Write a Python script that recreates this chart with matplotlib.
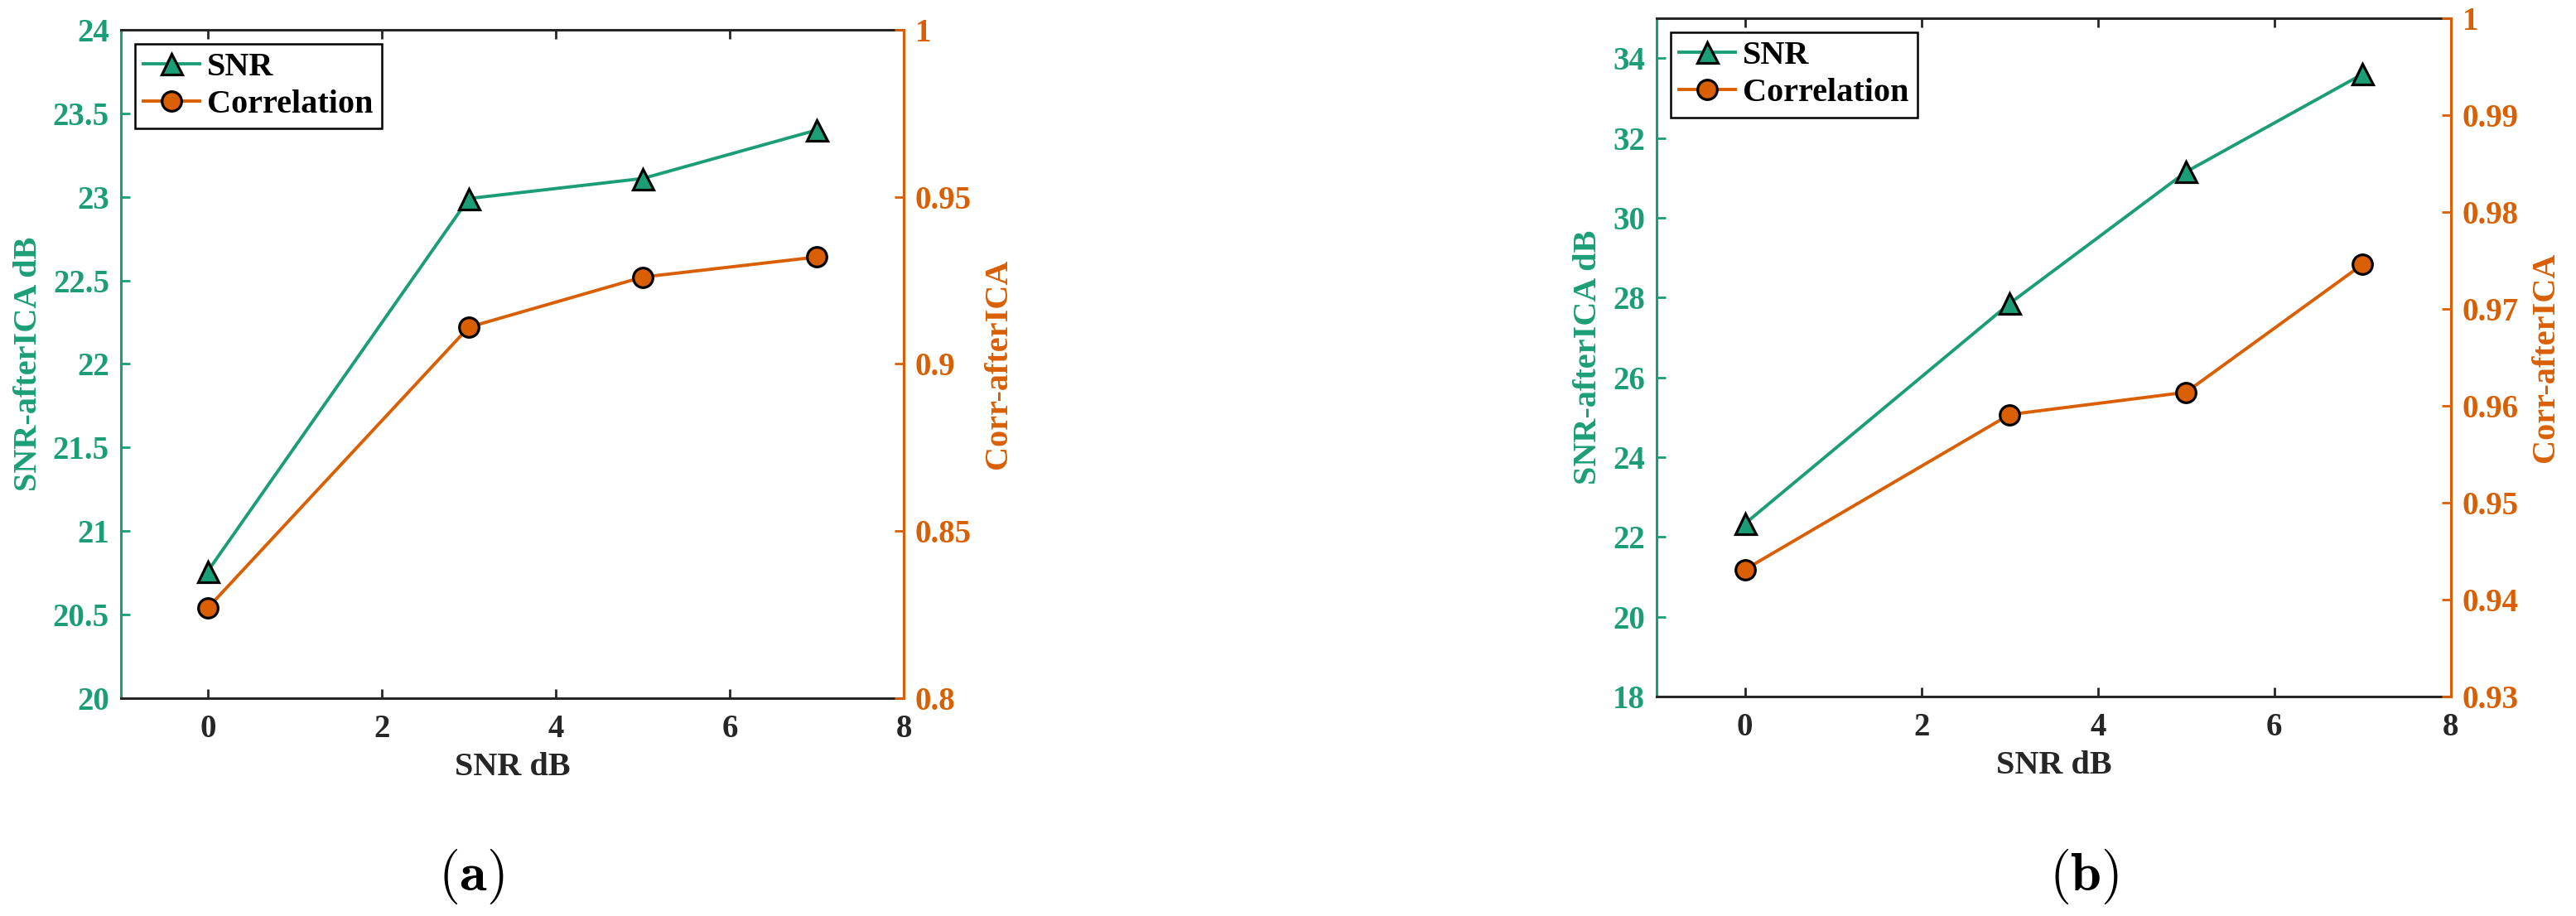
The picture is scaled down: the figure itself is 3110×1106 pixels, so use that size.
import matplotlib
matplotlib.use("Agg")
import matplotlib.pyplot as plt
from matplotlib.ticker import MultipleLocator, FuncFormatter

# 数据
snr_in = [0, 3, 5, 7]

snr_a = [20.76, 22.99, 23.11, 23.40]
corr_a = [0.827, 0.911, 0.926, 0.932]

snr_b = [22.33, 27.85, 31.15, 33.60]
corr_b = [0.9431, 0.9591, 0.9614, 0.9746]

green = '#1b9e77'
orange = '#d95f02'
dark = '#262626'

plt.rcParams['font.family'] = ['Liberation Serif', 'DejaVu Serif']
plt.rcParams['font.weight'] = 'bold'
plt.rcParams['axes.labelweight'] = 'bold'
plt.rcParams['mathtext.fontset'] = 'cm'

fig = plt.figure(figsize=(31.1, 11.06), dpi=100)

fmt = FuncFormatter(lambda v, p: f'{v:g}')


def panel(rect, snr, corr, ylim1, step1, ylim2, step2):
    ax = fig.add_axes(rect)
    ax2 = ax.twinx()

    l1, = ax.plot(snr_in, snr, '-^', color=green, lw=2.8, ms=18,
                  mfc=green, mec='black', mew=2.3, label='SNR')
    l2, = ax2.plot(snr_in, corr, '-o', color=orange, lw=2.8, ms=17,
                   mfc=orange, mec='black', mew=2.3, label='Correlation')

    ax.set_xlim(-1, 8)
    ax.xaxis.set_major_locator(MultipleLocator(2))
    ax.set_ylim(*ylim1)
    ax.yaxis.set_major_locator(MultipleLocator(step1))
    ax.yaxis.set_major_formatter(fmt)
    ax2.set_ylim(*ylim2)
    ax2.yaxis.set_major_locator(MultipleLocator(step2))
    ax2.yaxis.set_major_formatter(fmt)

    # 轴线颜色，仿 MATLAB yyaxis
    for s in ['top', 'bottom']:
        ax.spines[s].set_color(dark)
        ax.spines[s].set_linewidth(2.2)
        ax2.spines[s].set_visible(False)
    ax.spines['left'].set_color(green)
    ax.spines['left'].set_linewidth(2.2)
    ax.spines['right'].set_visible(False)
    ax2.spines['left'].set_visible(False)
    ax2.spines['right'].set_color(orange)
    ax2.spines['right'].set_linewidth(2.2)

    ax.tick_params(axis='x', direction='in', top=True, bottom=True,
                   colors=dark, length=8, width=2, labelsize=28, pad=14)
    ax.tick_params(axis='y', direction='in', left=True, right=False,
                   colors=green, length=8, width=2, labelsize=28, pad=10)
    ax2.tick_params(axis='y', direction='in', right=True, left=False,
                    colors=orange, length=8, width=2, labelsize=28, pad=10)

    ax.set_xlabel('SNR dB', fontsize=29, color=dark, labelpad=6)
    ax.set_ylabel('SNR-afterICA dB', fontsize=29, color=green, labelpad=8)
    ax2.set_ylabel('Corr-afterICA', fontsize=29, color=orange, labelpad=10)

    leg = ax2.legend([l1, l2], ['SNR', 'Correlation'], loc='upper left',
                     fontsize=29, fancybox=False, framealpha=1,
                     edgecolor='black', borderaxespad=0.42, borderpad=0.25,
                     labelspacing=0.2, handlelength=1.7, handletextpad=0.22)
    leg.get_frame().set_linewidth(1.8)
    return ax, ax2


panel([0.0469, 0.2378, 0.3039, 0.7297], snr_a, corr_a,
      (20, 24), 0.5, (0.8, 1.0), 0.05)
panel([0.6431, 0.2396, 0.3083, 0.7405], snr_b, corr_b,
      (18, 35), 2, (0.93, 1.0), 0.01)

# 子图标题 (a) (b)
fig.text(0.183, 0.043, r'$(\mathbf{a})$', fontsize=48, ha='center', va='center')
fig.text(0.809, 0.043, r'$(\mathbf{b})$', fontsize=48, ha='center', va='center')

fig.savefig('out.png', dpi=100, facecolor='white')
